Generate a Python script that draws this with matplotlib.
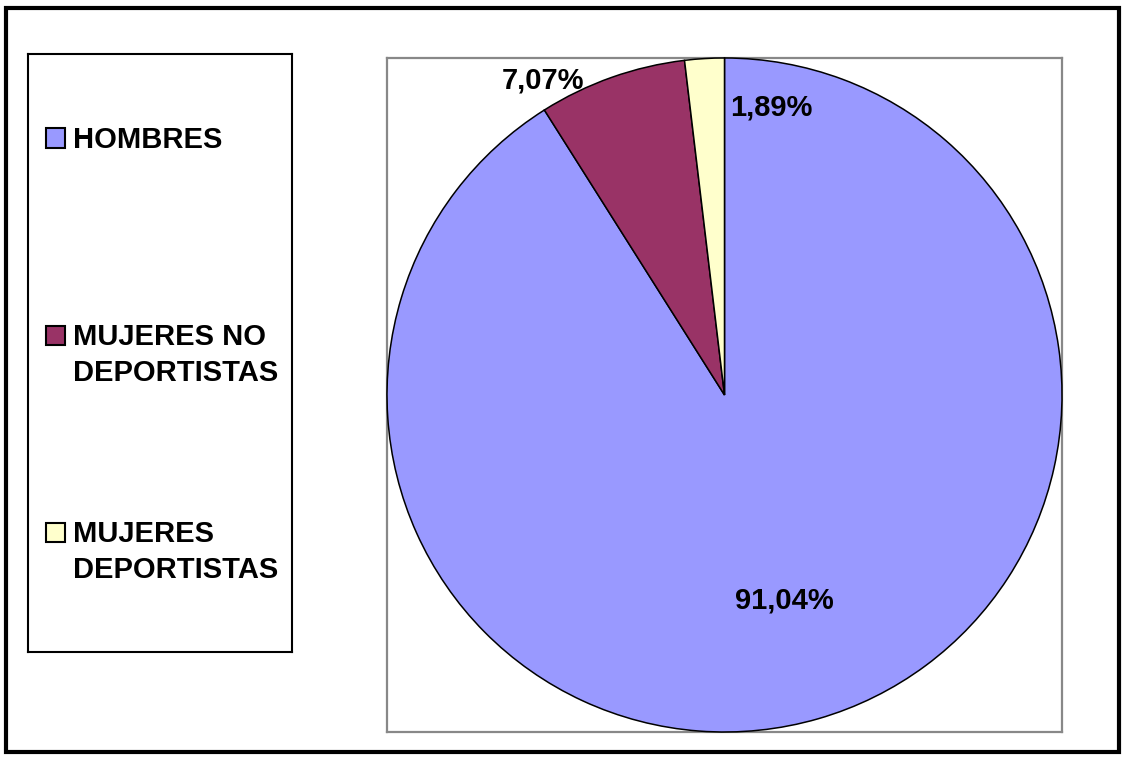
import matplotlib.pyplot as plt
from matplotlib.patches import Rectangle
import numpy as np

plt.rcParams['font.family'] = ['Liberation Sans', 'DejaVu Sans']

# Data
categories = ['HOMBRES', 'MUJERES NO\nDEPORTISTAS', 'MUJERES\nDEPORTISTAS']
values = [91.04, 7.07, 1.89]
colors = ['#9999FF', '#993366', '#FFFFCC']

W, H = 1123, 760
fig = plt.figure(figsize=(W / 100, H / 100), dpi=100)


def px(x0, y0, x1, y1):
    # pixel box (top-left origin) -> figure fraction rect
    return [x0 / W, 1 - y1 / H, (x1 - x0) / W, (y1 - y0) / H]


# outer black frame
fig.patches.append(Rectangle((6 / W, 1 - 752 / H), 1113 / W, 744 / H,
                             transform=fig.transFigure, fill=False,
                             edgecolor='black', linewidth=3.0))

# pie area
ax = fig.add_axes(px(387, 58, 1062, 732))
wedges, _ = ax.pie(values, colors=colors, startangle=90, counterclock=False,
                   frame=True,
                   wedgeprops=dict(edgecolor='black', linewidth=1.1))
ax.set_xlim(-1, 1)
ax.set_ylim(-1, 1)
ax.set_aspect('auto')
ax.set_frame_on(True)
ax.set_xticks([])
ax.set_yticks([])
for s in ax.spines.values():
    s.set_visible(True)
    s.set_edgecolor('#888888')
    s.set_linewidth(1.6)
    s.set_zorder(0.5)

# percentage labels (Excel-style placement)
label_r = [0.636, 1.078, 0.865]
label_dth = [0.0, 10.4, -12.6]
for w, v, r, dth in zip(wedges, values, label_r, label_dth):
    th = np.deg2rad((w.theta1 + w.theta2) / 2 + dth)
    ax.text(r * np.cos(th), r * np.sin(th), f'{v:.2f}%'.replace('.', ','),
            ha='center', va='center', fontsize=21, fontweight='bold',
            clip_on=False)

# legend box
lax = fig.add_axes(px(28, 54, 292, 652))
lax.set_xticks([])
lax.set_yticks([])
for s in lax.spines.values():
    s.set_linewidth(1.5)
    s.set_edgecolor('black')

row_y = [138, 335, 532]
for cat, col, y in zip(categories, colors, row_y):
    fig.patches.append(Rectangle((46 / W, 1 - (y + 9.5) / H), 19 / W, 19 / H,
                                 transform=fig.transFigure, facecolor=col,
                                 edgecolor='black', linewidth=1.5))
    fig.text(73 / W, 1 - (y - 12) / H, cat, ha='left', va='top',
             fontsize=21, fontweight='bold', linespacing=1.36)

fig.savefig('out.png', dpi=100)
